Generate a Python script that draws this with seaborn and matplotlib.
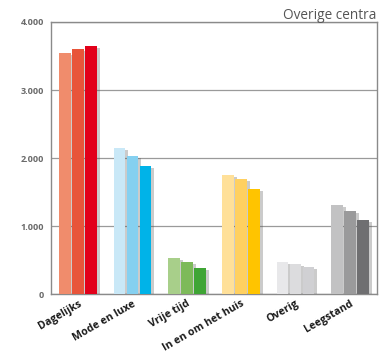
import matplotlib
matplotlib.use("Agg")
import matplotlib.pyplot as plt
import matplotlib.patheffects as pe
import numpy as np
import pandas as pd
import seaborn as sns

categories = ["Dagelijks", "Mode en luxe", "Vrije tijd", "In en om het huis", "Overig", "Leegstand"]
series = ["A", "B", "C"]
values_a = [3550, 2150, 535, 1750, 480, 1315]
values_b = [3600, 2035, 475, 1690, 445, 1230]
values_c = [3650, 1885, 385, 1545, 405, 1090]
colors_a = ["#F08C6C", "#C9E8F7", "#A8CF8A", "#FFE099", "#E8E8EA", "#C2C2C3"]
colors_b = ["#E8553A", "#85D0F0", "#7DBA5A", "#FFD060", "#DCDCDE", "#9A9A9B"]
colors_c = ["#E2001A", "#00B3E8", "#3FA535", "#FFC400", "#D0D0D3", "#6F6F71"]
yticks = [0, 1000, 2000, 3000, 4000]
ytick_labels = ["0", "1.000", "2.000", "3.000", "4.000"]

sns.set_theme(style="white")
plt.rcParams["font.family"] = ["Open Sans", "DejaVu Sans"]

df = pd.DataFrame({
    "categorie": categories * 3,
    "serie": [s for s in series for _ in categories],
    "waarde": values_a + values_b + values_c,
})

fig = plt.figure(figsize=(3.82, 3.56), dpi=100)
ax = fig.add_axes([51 / 382, 1 - 294.3 / 356, 326 / 382, (294.3 - 22) / 356])

sns.barplot(data=df, x="categorie", y="waarde", hue="serie", order=categories,
            hue_order=series, width=0.72, gap=0.1, legend=False, ax=ax,
            palette=["#888888"] * 3, saturation=1)

color_sets = [colors_a, colors_b, colors_c]
for container, cols in zip(ax.containers, color_sets):
    for patch, c in zip(container.patches, cols):
        patch.set_facecolor(c)
        patch.set_edgecolor("none")
        patch.set_zorder(3)
        patch.set_path_effects([
            pe.SimplePatchShadow(offset=(2.2, -1.5), shadow_rgbFace="#555555", alpha=0.3),
            pe.Normal(),
        ])

ax.set_xlim(-0.5, 5.5)
ax.set_ylim(0, 4000)
ax.set_yticks(yticks)
ax.set_yticklabels(ytick_labels)
ax.yaxis.grid(True, color="#9a9a9a", linewidth=0.9, zorder=0)
ax.set_axisbelow(True)
for s in ax.spines.values():
    s.set_color("#8a8a8a")
    s.set_linewidth(1.0)
ax.tick_params(axis="y", length=0, pad=5, labelsize=6.6, labelcolor="#6a6a6a")
for lbl in ax.get_yticklabels():
    lbl.set_fontweight("bold")
ax.tick_params(axis="x", length=0, pad=3, labelsize=7.6, labelcolor="#1a1a1a")
ax.set_xticks(range(len(categories)))
ax.set_xticklabels(categories, rotation=30, ha="right", rotation_mode="anchor",
                   fontweight="bold")
ax.set_xlabel("")
ax.set_ylabel("")

fig.text(376 / 382, 1 - 19 / 356, "Overige centra", ha="right", va="baseline",
         fontsize=9.8, color="#555555")

fig.savefig("out.png", dpi=100)
